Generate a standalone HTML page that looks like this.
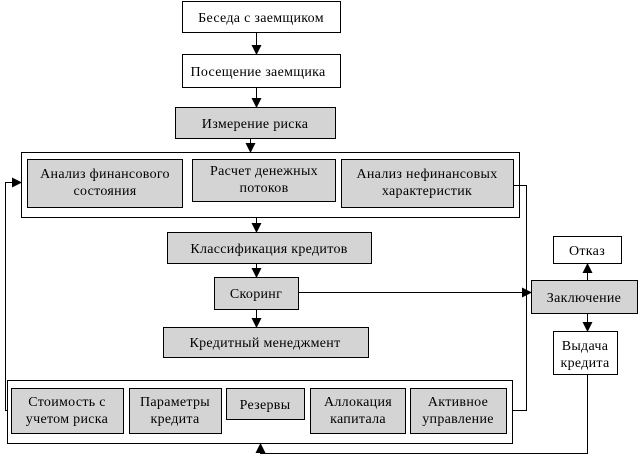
<!DOCTYPE html>
<html><head><meta charset="utf-8"><style>body{margin:0;background:#fff}svg{display:block}</style></head><body>
<svg width="639" height="456" viewBox="0 0 639 456" xmlns="http://www.w3.org/2000/svg" font-family="Liberation Serif, serif" font-size="14" letter-spacing="0.3" text-anchor="middle">
<defs><marker id="a" markerWidth="10" markerHeight="10" refX="9" refY="5" orient="auto" markerUnits="userSpaceOnUse"><path d="M0,0 L10,5 L0,10 z" fill="#000"/></marker></defs>
<g stroke="#000" stroke-width="1" fill="none">
<rect x="182.5" y="1.5" width="158" height="31" fill="#fff"/>
<rect x="182.5" y="54.5" width="158" height="33" fill="#fff"/>
<rect x="175.5" y="107.5" width="160" height="31" fill="#d4d4d4"/>
<rect x="21.5" y="152.5" width="498" height="65" fill="#fff"/>
<rect x="27.5" y="159.5" width="155" height="48" fill="#d4d4d4"/>
<rect x="192.5" y="159.5" width="143" height="42" fill="#d4d4d4"/>
<rect x="341.5" y="159.5" width="172" height="48" fill="#d4d4d4"/>
<rect x="167.5" y="232.5" width="204" height="31" fill="#d4d4d4"/>
<rect x="214.5" y="277.5" width="84" height="32" fill="#d4d4d4"/>
<rect x="163.5" y="327.5" width="205" height="30" fill="#d4d4d4"/>
<rect x="553.5" y="236.5" width="68" height="27" fill="#fff"/>
<rect x="531.5" y="280.5" width="106" height="33" fill="#d4d4d4"/>
<rect x="553.5" y="331.5" width="64" height="43" fill="#fff"/>
<rect x="7.5" y="380.5" width="505" height="63" fill="#fff"/>
<rect x="11.5" y="388.5" width="112" height="45" fill="#d4d4d4"/>
<rect x="129.5" y="388.5" width="92" height="45" fill="#d4d4d4"/>
<rect x="226.5" y="388.5" width="78" height="31" fill="#d4d4d4"/>
<rect x="310.5" y="388.5" width="95" height="45" fill="#d4d4d4"/>
<rect x="410.5" y="388.5" width="96" height="45" fill="#d4d4d4"/>
<line x1="256.5" y1="33" x2="256.5" y2="54" marker-end="url(#a)"/>
<line x1="256.5" y1="88" x2="256.5" y2="107" marker-end="url(#a)"/>
<line x1="250.5" y1="139" x2="250.5" y2="152" marker-end="url(#a)"/>
<line x1="256.5" y1="218" x2="256.5" y2="232" marker-end="url(#a)"/>
<line x1="256.5" y1="264" x2="256.5" y2="277" marker-end="url(#a)"/>
<line x1="256.5" y1="310" x2="256.5" y2="327" marker-end="url(#a)"/>
<line x1="299" y1="292.5" x2="531" y2="292.5" marker-end="url(#a)"/>
<line x1="587.5" y1="280" x2="587.5" y2="264" marker-end="url(#a)"/>
<line x1="587.5" y1="314" x2="587.5" y2="331" marker-end="url(#a)"/>
<polyline points="7,410.5 5.5,410.5 5.5,182.5 21,182.5" marker-end="url(#a)"/>
<polyline points="513,185.5 526.5,185.5 526.5,410.5 513,410.5"/>
<polyline points="587.5,375 587.5,453.5 260.5,453.5 260.5,444" marker-end="url(#a)"/>
</g>
<g fill="#000">
<text x="261" y="22">Беседа с заемщиком</text>
<text x="258" y="76">Посещение заемщика</text>
<text x="255" y="128">Измерение риска</text>
<text x="105" y="178">Анализ финансового</text><text x="105" y="195">состояния</text>
<text x="264" y="175">Расчет денежных</text><text x="264" y="192">потоков</text>
<text x="427" y="178">Анализ нефинансовых</text><text x="427" y="195">характеристик</text>
<text x="269" y="253">Классификация кредитов</text>
<text x="256" y="298">Скоринг</text>
<text x="265" y="347">Кредитный менеджмент</text>
<text x="587" y="255">Отказ</text>
<text x="584" y="302">Заключение</text>
<text x="585" y="350">Выдача</text><text x="585" y="367">кредита</text>
<text x="67" y="406">Стоимость с</text><text x="67" y="423">учетом риска</text>
<text x="175" y="406">Параметры</text><text x="175" y="423">кредита</text>
<text x="265" y="409">Резервы</text>
<text x="358" y="406">Аллокация</text><text x="358" y="423">капитала</text>
<text x="458" y="406">Активное</text><text x="458" y="423">управление</text>
</g>
</svg>
</body></html>
